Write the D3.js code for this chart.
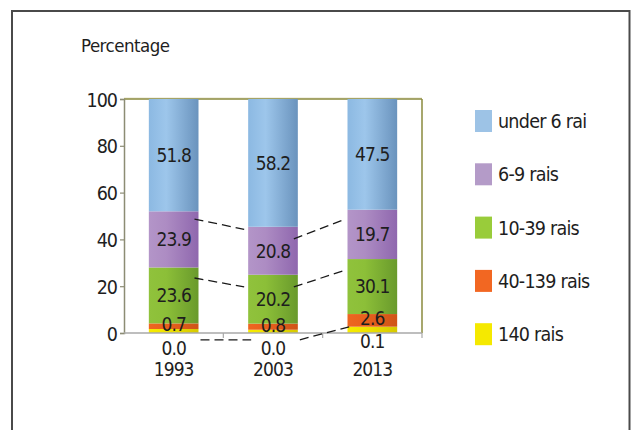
<!DOCTYPE html>
<html>
<head>
<meta charset="utf-8">
<script src="https://cdn.jsdelivr.net/npm/d3@7"></script>
<style>
  html, body { margin: 0; padding: 0; background: #fff; }
  svg { display: block; }
  text { font-family: "DejaVu Sans Condensed", "DejaVu Sans", sans-serif; fill: #1e1e1e; }
</style>
</head>
<body>
<svg id="chart" width="635" height="430"></svg>
<script>
// ---- data ----
const years = ["1993", "2003", "2013"];
const seriesNames = ["under 6 rai", "6-9 rais", "10-39 rais", "40-139 rais", "140 rais"];
// printed values (labels)
const under6 = [51.8, 58.2, 47.5];
const rais6to9 = [23.9, 20.8, 19.7];
const rais10to39 = [23.6, 20.2, 30.1];
const rais40to139 = [0.7, 0.8, 2.6];
const rais140 = [0.0, 0.0, 0.1];
// segment heights as drawn in the picture (bottom -> top: 140, 40-139, 10-39, 6-9, under 6)
const drawn140 = [1.7, 1.4, 2.7];
const drawn40to139 = [2.4, 2.6, 5.4];
const drawn10to39 = [23.9, 20.9, 23.5];
const drawn6to9 = [24.0, 20.5, 21.1];
const drawnUnder6 = [48.0, 54.6, 47.3];
const yTicks = [0, 20, 40, 60, 80, 100];
// dashed connectors: [value at left bar, value at right bar] for 1993->2003 and 2003->2013
const connectorA = [[48.7, 44.3], [40.2, 48.4]];
const connectorB = [[23.5, 19.7], [19.7, 26.6]];
const connectorC = [[-2.9, -2.9], [-2.9, 2.8]];

// ---- setup ----
const FS = "19px", LS = "-0.9px";
const svg = d3.select("#chart");
svg.append("rect").attr("width", 635).attr("height", 430).attr("fill", "#fff");
svg.append("rect").attr("x", 12).attr("y", 11).attr("width", 617.5).attr("height", 440)
  .attr("fill", "none").attr("stroke", "#4a4a4a").attr("stroke-width", 2);

const x = d3.scaleBand().domain(years).range([124, 422]).paddingInner(0.5).paddingOuter(0.25);
const y = d3.scaleLinear().domain([0, 100]).range([333, 99]);

const colors = {
  "under 6 rai": ["#8cb9e2", "#9dc6eb", "#6a93bd", "#9dc3e6"],
  "6-9 rais": ["#b395c8", "#ad8cc3", "#8f67ae", "#b49bc8"],
  "10-39 rais": ["#90c23c", "#8cbf38", "#699a2c", "#99cc3a"],
  "40-139 rais": ["#ee6621", "#e8601d", "#cf5418", "#f26722"],
  "140 rais": ["#f6ec00", "#f0e400", "#d6c900", "#f5e900"]
};
const defs = svg.append("defs");
seriesNames.forEach((s, i) => {
  const g = defs.append("linearGradient").attr("id", "g" + i).attr("x1", "0").attr("x2", "1").attr("y1", "0").attr("y2", "0");
  g.append("stop").attr("offset", "0%").attr("stop-color", colors[s][0]);
  g.append("stop").attr("offset", "35%").attr("stop-color", colors[s][1]);
  g.append("stop").attr("offset", "100%").attr("stop-color", colors[s][2]);
});

// plot frame lines
svg.append("line").attr("x1", 124).attr("x2", 422).attr("y1", y(100) - 1).attr("y2", y(100) - 1)
  .attr("stroke", "#e4e2cc").attr("stroke-width", 1);
svg.append("line").attr("x1", 124).attr("x2", 422).attr("y1", y(100)).attr("y2", y(100))
  .attr("stroke", "#8a8a3c").attr("stroke-width", 1.5);
svg.append("line").attr("x1", 422).attr("x2", 422).attr("y1", y(100)).attr("y2", y(0))
  .attr("stroke", "#8a8a3c").attr("stroke-width", 1.5);

// stacked bars
const drawnRows = [drawn140, drawn40to139, drawn10to39, drawn6to9, drawnUnder6];
const labelRows = [rais140, rais40to139, rais10to39, rais6to9, under6];
const seriesOrder = ["140 rais", "40-139 rais", "10-39 rais", "6-9 rais", "under 6 rai"];
const table = years.map((yr, i) => {
  const o = { year: yr };
  seriesOrder.forEach((s, k) => { o[s] = drawnRows[k][i]; });
  return o;
});
const stack = d3.stack().keys(seriesOrder)(table);
stack.forEach((layer, k) => {
  const gi = seriesNames.indexOf(layer.key);
  svg.append("g").selectAll("rect").data(layer).join("rect")
    .attr("x", d => x(d.data.year))
    .attr("width", x.bandwidth())
    .attr("y", d => y(d[1]))
    .attr("height", d => y(d[0]) - y(d[1]))
    .attr("fill", `url(#g${gi})`);
});

// axes
const yAxis = svg.append("g").attr("transform", "translate(124,0)")
  .call(d3.axisLeft(y).tickValues(yTicks).tickSize(4).tickPadding(3));
yAxis.select(".domain").attr("stroke", "#8c8c74").attr("stroke-width", 1.5);
yAxis.selectAll(".tick line").attr("stroke", "#8c8c74").attr("stroke-width", 1.2);
yAxis.selectAll(".tick text").style("font-size", "19.5px").style("letter-spacing", "-1px")
  .attr("fill", "#1e1e1e").attr("dy", "0.36em");

svg.append("line").attr("x1", 124).attr("x2", 422).attr("y1", y(0)).attr("y2", y(0))
  .attr("stroke", "#a8a8a8").attr("stroke-width", 1.5);
const boundaries = years.map(yr => x(yr) + x.bandwidth() + x.step() * x.paddingInner() / 2);
svg.append("g").selectAll("line").data(boundaries).join("line")
  .attr("x1", d => d).attr("x2", d => d).attr("y1", y(0)).attr("y2", y(0) + 5)
  .attr("stroke", "#a8a8a8").attr("stroke-width", 1.2);

// segment labels (inside)
stack.forEach((layer, k) => {
  if (layer.key === "140 rais") return;
  const vals = labelRows[k];
  const nudge = layer.key === "40-139 rais" ? -2 : 0;
  svg.append("g").selectAll("text").data(layer).join("text")
    .attr("x", d => x(d.data.year) + x.bandwidth() / 2)
    .attr("y", d => (y(d[0]) + y(d[1])) / 2 + nudge)
    .attr("dy", "0.36em")
    .attr("text-anchor", "middle")
    .style("font-size", FS).style("letter-spacing", LS)
    .text((d, i) => vals[i].toFixed(1));
});
// 140 rais labels below axis
svg.append("g").selectAll("text").data(years).join("text")
  .attr("x", d => x(d) + x.bandwidth() / 2)
  .attr("y", (d, i) => y(0) + (i === 2 ? 8.5 : 15))
  .attr("dy", "0.36em").attr("text-anchor", "middle")
  .style("font-size", FS).style("letter-spacing", LS)
  .text((d, i) => rais140[i].toFixed(1));
// year labels
svg.append("g").selectAll("text").data(years).join("text")
  .attr("x", d => x(d) + x.bandwidth() / 2)
  .attr("y", y(0) + 36)
  .attr("dy", "0.36em").attr("text-anchor", "middle")
  .style("font-size", FS).style("letter-spacing", LS)
  .text(d => d);

// dashed connectors
function drawConnector(pairs, offL, offR) {
  pairs.forEach((p, i) => {
    svg.append("line")
      .attr("x1", x(years[i]) + x.bandwidth() + offL)
      .attr("x2", x(years[i + 1]) + offR)
      .attr("y1", y(p[0])).attr("y2", y(p[1]))
      .attr("stroke", "#1a1a1a").attr("stroke-width", 1.3)
      .attr("stroke-dasharray", "9,5");
  });
}
drawConnector(connectorA, -4, -4);
drawConnector(connectorB, -4, -4);
drawConnector(connectorC, 2, 3);

// title
svg.append("text").attr("x", 81).attr("y", 52).style("font-size", "18.5px")
  .style("letter-spacing", "-0.5px").text("Percentage");

// legend
const legend = svg.append("g").attr("transform", "translate(475,110)");
const lg = legend.selectAll("g").data(seriesNames).join("g")
  .attr("transform", (d, i) => `translate(0,${i * 53.3})`);
lg.append("rect").attr("width", 17).attr("height", 22).attr("fill", d => colors[d][3]);
lg.append("text").attr("x", 23).attr("y", 11).attr("dy", "0.36em")
  .style("font-size", "19.5px").style("letter-spacing", "-0.75px").text(d => d);
</script>
</body>
</html>
